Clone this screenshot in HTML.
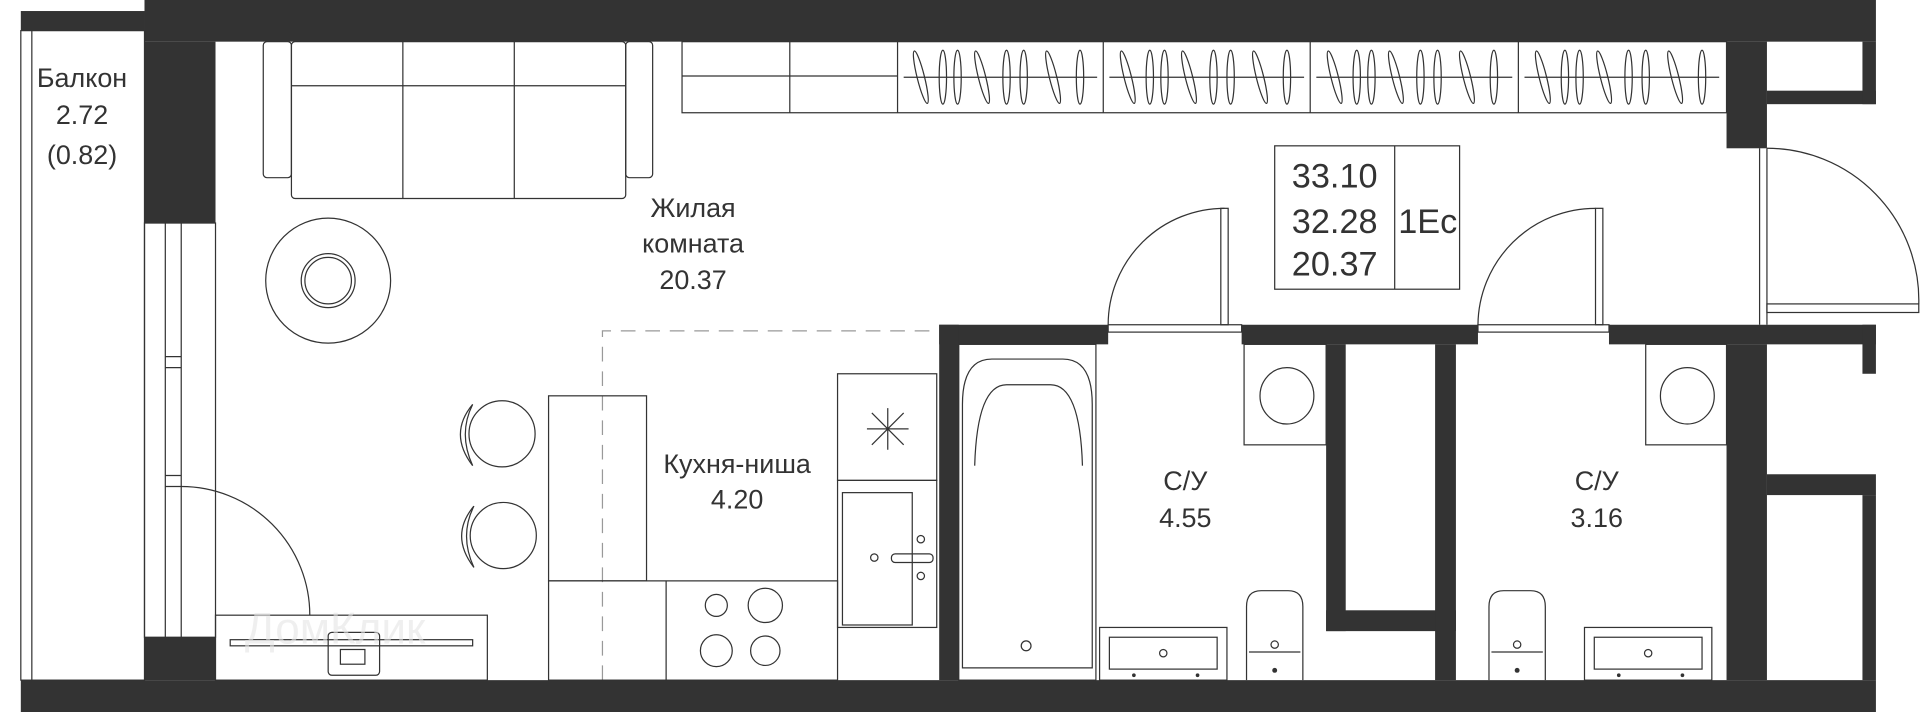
<!DOCTYPE html>
<html><head><meta charset="utf-8"><style>
html,body{margin:0;padding:0;background:#fff;width:1920px;height:712px;overflow:hidden}
svg{display:block}
text{font-family:"Liberation Sans",sans-serif;fill:#333;text-anchor:middle}
</style></head><body>
<svg width="1920" height="712" viewBox="0 0 1568 581" preserveAspectRatio="none" xmlns="http://www.w3.org/2000/svg">
<defs>
<g id="hangers" fill="none" stroke="#333" stroke-width="1">
<ellipse cx="12" cy="27" rx="3" ry="22" transform="rotate(-14 12 27)"/>
<ellipse cx="30" cy="27" rx="3" ry="22"/>
<ellipse cx="42" cy="27" rx="3" ry="22"/>
<ellipse cx="62" cy="27" rx="3" ry="22" transform="rotate(-14 62 27)"/>
<ellipse cx="82" cy="27" rx="3" ry="22"/>
<ellipse cx="96" cy="27" rx="3" ry="22"/>
<ellipse cx="120" cy="27" rx="3" ry="22" transform="rotate(-14 120 27)"/>
<ellipse cx="142" cy="27" rx="3" ry="22"/>
</g>
</defs>
<g fill="#333">
<!-- outer walls -->
<rect x="118" y="0" width="1414" height="34"/>
<rect x="17" y="9" width="101" height="16"/>
<rect x="118" y="34" width="58" height="148"/>
<rect x="118" y="520" width="58" height="35"/>
<rect x="17" y="555" width="1515" height="26"/>
<!-- right -->
<rect x="1410" y="34" width="33" height="87"/>
<rect x="1443" y="74" width="89" height="11"/>
<rect x="1521" y="34" width="11" height="51"/>
<!-- bathroom walls -->
<rect x="767" y="265" width="138" height="16"/>
<rect x="1014" y="265" width="193" height="16"/>
<rect x="1314" y="265" width="218" height="16"/>
<rect x="1521" y="265" width="11" height="40"/>
<rect x="767" y="265" width="16" height="290"/>
<rect x="1083" y="281" width="16" height="234"/>
<rect x="1083" y="498" width="106" height="17"/>
<rect x="1172" y="281" width="17" height="274"/>
<rect x="1410" y="281" width="33" height="274"/>
<rect x="1443" y="387" width="89" height="17"/>
<rect x="1521" y="404" width="11" height="151"/>
</g>
<g fill="none" stroke="#333" stroke-width="1">
<!-- balcony -->
<rect x="17" y="25" width="101" height="530"/>
<line x1="26" y1="25" x2="26" y2="555"/>
<!-- window -->
<rect x="118" y="182" width="58" height="338"/>
<line x1="135" y1="182" x2="135" y2="520"/><line x1="148" y1="182" x2="148" y2="520"/>
<line x1="135" y1="291" x2="148" y2="291"/><line x1="135" y1="300" x2="148" y2="300"/>
<line x1="135" y1="388" x2="148" y2="388"/><line x1="135" y1="397" x2="148" y2="397"/>
<path d="M148 397 A105 105 0 0 1 253 502"/>
<!-- sofa -->
<rect x="238" y="34" width="273" height="128" rx="3"/>
<line x1="238" y1="70" x2="511" y2="70"/>
<line x1="329" y1="34" x2="329" y2="162"/><line x1="420" y1="34" x2="420" y2="162"/>
<rect x="215" y="34" width="23" height="111" rx="3"/>
<rect x="511" y="34" width="22" height="111" rx="3"/>
<!-- rug -->
<circle cx="268" cy="229" r="51"/><circle cx="268" cy="229" r="22"/><circle cx="268" cy="229" r="19"/>
<!-- wardrobe -->
<rect x="557" y="34" width="853" height="58"/>
<line x1="557" y1="62" x2="733" y2="62"/>
<line x1="645" y1="34" x2="645" y2="92"/>
<line x1="733" y1="34" x2="733" y2="92"/><line x1="901" y1="34" x2="901" y2="92"/>
<line x1="1070" y1="34" x2="1070" y2="92"/><line x1="1240" y1="34" x2="1240" y2="92"/>
<line x1="738" y1="63" x2="896" y2="63"/><line x1="906" y1="63" x2="1065" y2="63"/>
<line x1="1075" y1="63" x2="1235" y2="63"/><line x1="1245" y1="63" x2="1404" y2="63"/>
</g>
<use href="#hangers" x="740" y="36"/>
<use href="#hangers" x="909" y="36"/>
<use href="#hangers" x="1078" y="36"/>
<use href="#hangers" x="1248" y="36"/>
<g fill="none" stroke="#333" stroke-width="1">
<!-- dashed kitchen -->
<path d="M492 555 V270 H765" stroke="#999" stroke-dasharray="12 8"/>
<!-- chairs -->
<circle cx="410" cy="354" r="27"/><circle cx="411" cy="437" r="27"/>
<path d="M386 330 Q366 354 386 380"/><path d="M386 330 Q374 354 386 380"/>
<path d="M387 413 Q367 437 387 463"/><path d="M387 413 Q375 437 387 463"/>
<!-- kitchen -->
<rect x="448" y="323" width="80" height="151"/>
<rect x="448" y="474" width="236" height="81"/>
<line x1="544" y1="474" x2="544" y2="555"/>
<circle cx="585" cy="494" r="9"/><circle cx="625" cy="494" r="14"/>
<circle cx="585" cy="531" r="13"/><circle cx="625" cy="531" r="12"/>
<rect x="684" y="305" width="81" height="87"/>
<path d="M712 337 L738 363 M738 337 L712 363 M725 333 V367 M708 350 H742"/>
<rect x="684" y="392" width="81" height="120"/>
<rect x="688" y="402" width="57" height="108"/>
<circle cx="752" cy="440" r="3"/><circle cx="752" cy="470" r="3"/><circle cx="714" cy="455" r="3"/>
<rect x="728" y="452" width="34" height="7" rx="3"/>
<!-- desk -->
<rect x="176" y="502" width="222" height="53"/>
<rect x="188" y="522" width="198" height="5"/>
<rect x="268" y="516" width="42" height="35" rx="3"/>
<rect x="278" y="530" width="20" height="12"/>
<!-- entrance door -->
<line x1="1437" y1="121" x2="1437" y2="265"/><line x1="1443" y1="121" x2="1443" y2="265"/>
<rect x="1443" y="248" width="124" height="7"/>
<path d="M1443 121 A124 124 0 0 1 1567 248"/>
<!-- bathroom doors -->
<rect x="997" y="170" width="6" height="95"/>
<path d="M905 265 A95 95 0 0 1 1000 170"/>
<rect x="905" y="265" width="109" height="6"/>
<rect x="1303" y="170" width="6" height="95"/>
<path d="M1207 265 A96 96 0 0 1 1303 170"/>
<rect x="1207" y="265" width="107" height="6"/>
<!-- bath 1 -->
<rect x="783" y="281" width="112" height="274"/>
<path d="M786 545 V330 Q786 293 810 293 H868 Q892 293 892 330 V545 Z"/>
<path d="M796 380 Q798 314 822 314 H858 Q882 314 884 380"/>
<circle cx="838" cy="527" r="4"/>
<rect x="1016" y="281" width="67" height="82"/><ellipse cx="1051" cy="323" rx="22" ry="23"/>
<path d="M1018 555 V495 Q1018 482 1030 482 H1052 Q1064 482 1064 495 V555"/>
<path d="M1020 532 H1062"/>
<circle cx="1041" cy="526" r="3"/>
<rect x="898" y="512" width="104" height="43"/><rect x="906" y="520" width="88" height="26"/>
<circle cx="950" cy="533" r="3"/>
<circle cx="1305" cy="323" rx="22" r="0"/>
<!-- bath 2 -->
<rect x="1344" y="281" width="66" height="82"/><ellipse cx="1378" cy="323" rx="22" ry="23"/>
<path d="M1216 555 V495 Q1216 482 1228 482 H1250 Q1262 482 1262 495 V555"/>
<path d="M1218 532 H1260"/>
<circle cx="1239" cy="526" r="3"/>
<rect x="1294" y="512" width="104" height="43"/><rect x="1302" y="520" width="88" height="26"/>
<circle cx="1346" cy="533" r="3"/>
<!-- info box -->
<rect x="1041" y="119" width="151" height="117"/>
<line x1="1139" y1="119" x2="1139" y2="236"/>
</g>
<g fill="#333">
<circle cx="926" cy="551" r="1.5"/><circle cx="978" cy="551" r="1.5"/>
<circle cx="1322" cy="551" r="1.5"/><circle cx="1374" cy="551" r="1.5"/>
<circle cx="1041" cy="547" r="2"/><circle cx="1239" cy="547" r="2"/>
</g>
<text x="1391" y="164" font-size="1" fill="#fff"> </text>
<g font-size="22">
<text x="67" y="71">Балкон</text>
<text x="67" y="101">2.72</text>
<text x="67" y="134">(0.82)</text>
<text x="566" y="177">Жилая</text>
<text x="566" y="206">комната</text>
<text x="566" y="236">20.37</text>
<text x="602" y="386">Кухня-ниша</text>
<text x="602" y="415">4.20</text>
<text x="968" y="400">С/У</text>
<text x="968" y="430">4.55</text>
<text x="1304" y="400">С/У</text>
<text x="1304" y="430">3.16</text>
</g>
<g font-size="28">
<text x="1090" y="153">33.10</text>
<text x="1090" y="190">32.28</text>
<text x="1090" y="225">20.37</text>
<text x="1166" y="190">1Ec</text>
</g>
<text x="200" y="525" font-size="36" style="fill:#e6e6e6;text-anchor:start" opacity="0.6">ДомКлик</text>
</svg>
</body></html>
